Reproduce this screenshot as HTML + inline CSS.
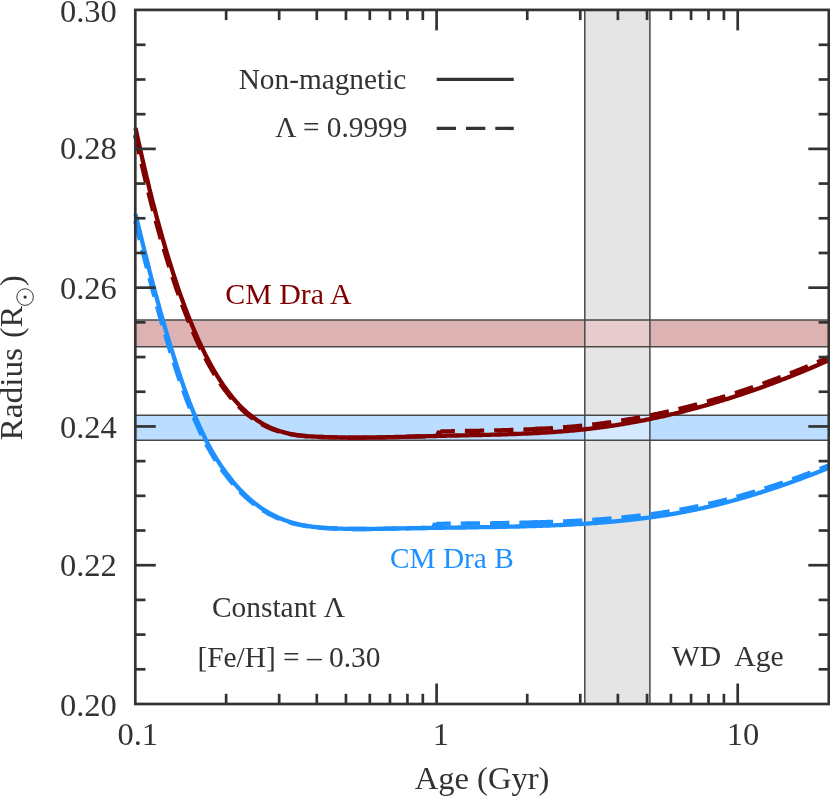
<!DOCTYPE html>
<html><head><meta charset="utf-8"><title>chart</title>
<style>html,body{margin:0;padding:0;background:#fff;}body{width:830px;height:797px;overflow:hidden;font-family:"Liberation Serif",serif;}svg{display:block;will-change:transform;}</style></head>
<body>
<svg width="830" height="797" viewBox="0 0 830 797" font-family="'Liberation Serif', serif" fill="#333333">
<rect width="830" height="797" fill="#fff"/>
<defs><clipPath id="pc"><rect x="129.3" y="9.9" width="702.7" height="694.1"/></clipPath></defs>
<rect x="135.3" y="320.1" width="694.7" height="26.6" fill="#8b0000" fill-opacity="0.30"/>
<rect x="135.3" y="415.2" width="694.7" height="25.0" fill="#1e90ff" fill-opacity="0.30"/>
<rect x="585" y="9.9" width="65" height="694.1" fill="#cccccc" fill-opacity="0.5"/>
<rect x="585" y="320.1" width="65" height="26.6" fill="#e6cccc"/>
<rect x="585" y="415.2" width="65" height="25.0" fill="#d4e8ff"/>
<line x1="135.3" y1="320.1" x2="830" y2="320.1" stroke="#484848" stroke-width="1.5"/>
<line x1="135.3" y1="346.7" x2="830" y2="346.7" stroke="#484848" stroke-width="1.5"/>
<line x1="135.3" y1="415.2" x2="830" y2="415.2" stroke="#484848" stroke-width="1.5"/>
<line x1="135.3" y1="440.2" x2="830" y2="440.2" stroke="#484848" stroke-width="1.5"/>
<line x1="584.8" y1="9.9" x2="584.8" y2="704.0" stroke="#484848" stroke-width="1.5"/>
<line x1="649.9" y1="9.9" x2="649.9" y2="704.0" stroke="#484848" stroke-width="1.5"/>
<g clip-path="url(#pc)" fill="none" stroke-linejoin="round">
<path d="M133.6,128.0 L134.6,132.6 L135.6,137.2 L136.6,141.8 L137.6,146.3 L138.6,150.8 L139.6,155.2 L140.6,159.6 L141.6,163.9 L142.6,168.2 L143.6,172.5 L144.6,176.7 L145.6,180.9 L146.6,185.0 L147.6,189.1 L148.6,193.1 L149.6,197.1 L150.6,201.0 L151.6,205.0 L152.6,208.8 L153.6,212.6 L154.6,216.4 L155.6,220.2 L156.6,223.9 L157.6,227.5 L158.6,231.1 L159.6,234.7 L160.6,238.3 L161.6,241.8 L162.6,245.2 L163.7,248.6 L164.7,252.0 L165.7,255.3 L166.7,258.6 L167.7,261.9 L168.7,265.1 L169.7,268.3 L170.7,271.5 L171.7,274.6 L172.7,277.6 L173.7,280.7 L174.7,283.6 L175.7,286.6 L176.7,289.5 L177.7,292.4 L178.7,295.2 L179.7,298.1 L180.7,300.8 L181.7,303.6 L182.7,306.3 L183.7,308.9 L184.7,311.5 L185.7,314.1 L186.7,316.7 L187.7,319.2 L188.7,321.7 L189.7,324.2 L190.7,326.6 L191.7,329.0 L192.7,331.3 L193.7,333.6 L194.7,335.9 L195.7,338.2 L196.7,340.4 L197.7,342.6 L198.7,344.7 L199.7,346.8 L200.7,348.9 L201.7,351.0 L202.7,353.0 L203.7,355.0 L204.7,356.9 L205.7,358.9 L206.7,360.8 L207.7,362.6 L208.7,364.5 L209.7,366.3 L210.7,368.0 L211.7,369.8 L212.7,371.5 L213.7,373.2 L214.7,374.8 L215.7,376.5 L216.7,378.1 L217.7,379.6 L218.7,381.2 L219.7,382.7 L220.7,384.2 L221.7,385.6 L222.7,387.1 L223.8,388.5 L224.8,389.9 L225.8,391.2 L226.8,392.5 L227.8,393.8 L228.8,395.1 L229.8,396.4 L230.8,397.6 L231.8,398.8 L232.8,399.9 L233.8,401.1 L234.8,402.2 L235.8,403.3 L236.8,404.4 L237.8,405.4 L238.8,406.5 L239.8,407.5 L240.8,408.5 L241.8,409.4 L242.8,410.3 L243.8,411.3 L244.8,412.2 L245.8,413.0 L246.8,413.9 L247.8,414.7 L248.8,415.5 L249.8,416.3 L250.8,417.1 L251.8,417.8 L252.8,418.5 L253.8,419.3 L254.8,419.9 L255.8,420.6 L256.8,421.3 L257.8,421.9 L258.8,422.5 L259.8,423.1 L260.8,423.7 L261.8,424.3 L262.8,424.8 L263.8,425.3 L264.8,425.8 L265.8,426.3 L266.8,426.8 L267.8,427.3 L268.8,427.7 L269.8,428.2 L270.8,428.6 L271.8,429.0 L272.8,429.4 L273.8,429.8 L274.8,430.1 L275.8,430.5 L276.8,430.8 L277.8,431.1 L278.8,431.5 L279.8,431.8 L280.8,432.0 L281.8,432.3 L282.8,432.6 L283.9,432.8 L284.9,433.1 L285.9,433.3 L286.9,433.5 L287.9,433.8 L288.9,434.0 L289.9,434.2 L290.9,434.3 L291.9,434.5 L292.9,434.7 L293.9,434.8 L294.9,435.0 L295.9,435.1 L296.9,435.3 L297.9,435.4 L298.9,435.5 L299.9,435.6 L300.9,435.7 L301.9,435.8 L302.9,435.9 L303.9,436.0 L304.9,436.1 L305.9,436.2 L306.9,436.3 L307.9,436.3 L308.9,436.4 L309.9,436.5 L310.9,436.5 L311.9,436.6 L312.9,436.6 L313.9,436.7 L314.9,436.7 L315.9,436.8 L316.9,436.8 L317.9,436.9 L318.9,436.9 L319.9,437.0 L320.9,437.0 L321.9,437.0 L322.9,437.1 L323.9,437.1 L324.9,437.1 L325.9,437.2 L326.9,437.2 L327.9,437.2 L328.9,437.3 L329.9,437.3 L330.9,437.3 L331.9,437.3 L332.9,437.4 L333.9,437.4 L334.9,437.4 L335.9,437.4 L336.9,437.4 L337.9,437.5 L338.9,437.5 L339.9,437.5 L340.9,437.5 L341.9,437.5 L342.9,437.5 L344.0,437.5 L345.0,437.6 L346.0,437.6 L347.0,437.6 L348.0,437.6 L349.0,437.6 L350.0,437.6 L351.0,437.6 L352.0,437.6 L353.0,437.6 L354.0,437.6 L355.0,437.6 L356.0,437.6 L357.0,437.6 L358.0,437.6 L359.0,437.6 L360.0,437.6 L361.0,437.6 L362.0,437.6 L363.0,437.6 L364.0,437.6 L365.0,437.6 L366.0,437.5 L367.0,437.5 L368.0,437.5 L369.0,437.5 L370.0,437.5 L371.0,437.5 L372.0,437.5 L373.0,437.5 L374.0,437.5 L375.0,437.4 L376.0,437.4 L377.0,437.4 L378.0,437.4 L379.0,437.4 L380.0,437.4 L381.0,437.3 L382.0,437.3 L383.0,437.3 L384.0,437.3 L385.0,437.3 L386.0,437.2 L387.0,437.2 L388.0,437.2 L389.0,437.2 L390.0,437.2 L391.0,437.1 L392.0,437.1 L393.0,437.1 L394.0,437.1 L395.0,437.0 L396.0,437.0 L397.0,437.0 L398.0,437.0 L399.0,436.9 L400.0,436.9 L401.0,436.9 L402.0,436.9 L403.0,436.8 L404.1,436.8 L405.1,436.8 L406.1,436.7 L407.1,436.7 L408.1,436.7 L409.1,436.7 L410.1,436.6 L411.1,436.6 L412.1,436.6 L413.1,436.6 L414.1,436.5 L415.1,436.5 L416.1,436.5 L417.1,436.4 L418.1,436.4 L419.1,436.4 L420.1,436.4 L421.1,436.3 L422.1,436.3 L423.1,436.3 L424.1,436.3 L425.1,436.2 L426.1,436.2 L427.1,436.2 L428.1,436.1 L429.1,436.1 L430.1,436.1 L431.1,436.1 L432.1,436.0 L433.1,436.0" stroke="#800000" stroke-width="4.3" stroke-dasharray="19.3 10" stroke-dashoffset="-7.3"/>
<path d="M133.6,214.0 L134.6,218.2 L135.6,222.4 L136.6,226.5 L137.6,230.7 L138.6,234.8 L139.6,238.9 L140.6,242.9 L141.6,247.0 L142.6,251.0 L143.6,255.0 L144.6,259.0 L145.6,262.9 L146.6,266.9 L147.6,270.8 L148.6,274.6 L149.6,278.5 L150.6,282.3 L151.6,286.1 L152.6,289.9 L153.6,293.6 L154.6,297.3 L155.6,301.0 L156.6,304.7 L157.6,308.3 L158.6,311.9 L159.6,315.5 L160.6,319.0 L161.6,322.6 L162.6,326.0 L163.7,329.5 L164.7,332.9 L165.7,336.3 L166.7,339.7 L167.7,343.0 L168.7,346.3 L169.7,349.6 L170.7,352.8 L171.7,356.0 L172.7,359.2 L173.7,362.3 L174.7,365.4 L175.7,368.5 L176.7,371.5 L177.7,374.5 L178.7,377.5 L179.7,380.4 L180.7,383.3 L181.7,386.2 L182.7,389.0 L183.7,391.8 L184.7,394.5 L185.7,397.2 L186.7,399.9 L187.7,402.5 L188.7,405.1 L189.7,407.6 L190.7,410.1 L191.7,412.6 L192.7,415.0 L193.7,417.4 L194.7,419.8 L195.7,422.1 L196.7,424.4 L197.7,426.6 L198.7,428.8 L199.7,431.0 L200.7,433.1 L201.7,435.2 L202.7,437.2 L203.7,439.2 L204.7,441.2 L205.7,443.1 L206.7,445.0 L207.7,446.9 L208.7,448.7 L209.7,450.5 L210.7,452.3 L211.7,454.0 L212.7,455.7 L213.7,457.3 L214.7,459.0 L215.7,460.5 L216.7,462.1 L217.7,463.6 L218.7,465.1 L219.7,466.6 L220.7,468.1 L221.7,469.5 L222.7,470.9 L223.8,472.3 L224.8,473.6 L225.8,475.0 L226.8,476.3 L227.8,477.6 L228.8,478.8 L229.8,480.1 L230.8,481.3 L231.8,482.5 L232.8,483.7 L233.8,484.8 L234.8,486.0 L235.8,487.1 L236.8,488.2 L237.8,489.3 L238.8,490.3 L239.8,491.4 L240.8,492.4 L241.8,493.4 L242.8,494.4 L243.8,495.3 L244.8,496.3 L245.8,497.2 L246.8,498.1 L247.8,499.0 L248.8,499.9 L249.8,500.7 L250.8,501.6 L251.8,502.4 L252.8,503.2 L253.8,504.0 L254.8,504.8 L255.8,505.5 L256.8,506.2 L257.8,507.0 L258.8,507.7 L259.8,508.3 L260.8,509.0 L261.8,509.7 L262.8,510.3 L263.8,510.9 L264.8,511.5 L265.8,512.1 L266.8,512.7 L267.8,513.3 L268.8,513.8 L269.8,514.4 L270.8,514.9 L271.8,515.4 L272.8,515.9 L273.8,516.4 L274.8,516.9 L275.8,517.3 L276.8,517.8 L277.8,518.2 L278.8,518.6 L279.8,519.0 L280.8,519.4 L281.8,519.8 L282.8,520.2 L283.9,520.5 L284.9,520.9 L285.9,521.2 L286.9,521.6 L287.9,521.9 L288.9,522.2 L289.9,522.5 L290.9,522.8 L291.9,523.1 L292.9,523.3 L293.9,523.6 L294.9,523.8 L295.9,524.1 L296.9,524.3 L297.9,524.5 L298.9,524.7 L299.9,525.0 L300.9,525.2 L301.9,525.3 L302.9,525.5 L303.9,525.7 L304.9,525.9 L305.9,526.0 L306.9,526.2 L307.9,526.3 L308.9,526.5 L309.9,526.6 L310.9,526.7 L311.9,526.9 L312.9,527.0 L313.9,527.1 L314.9,527.2 L315.9,527.3 L316.9,527.4 L317.9,527.5 L318.9,527.6 L319.9,527.7 L320.9,527.8 L321.9,527.8 L322.9,527.9 L323.9,528.0 L324.9,528.0 L325.9,528.1 L326.9,528.2 L327.9,528.2 L328.9,528.3 L329.9,528.3 L330.9,528.4 L331.9,528.4 L332.9,528.5 L333.9,528.5 L334.9,528.5 L335.9,528.6 L336.9,528.6 L337.9,528.7 L338.9,528.7 L339.9,528.7 L340.9,528.8 L341.9,528.8 L342.9,528.8 L344.0,528.8 L345.0,528.8 L346.0,528.9 L347.0,528.9 L348.0,528.9 L349.0,528.9 L350.0,528.9 L351.0,528.9 L352.0,529.0 L353.0,529.0 L354.0,529.0 L355.0,529.0 L356.0,529.0 L357.0,529.0 L358.0,529.0 L359.0,529.0 L360.0,529.0 L361.0,529.0 L362.0,529.0 L363.0,529.0 L364.0,529.0 L365.0,529.0 L366.0,529.0 L367.0,529.0 L368.0,529.0 L369.0,528.9 L370.0,528.9 L371.0,528.9 L372.0,528.9 L373.0,528.9 L374.0,528.9 L375.0,528.9 L376.0,528.9 L377.0,528.8 L378.0,528.8 L379.0,528.8 L380.0,528.8 L381.0,528.8 L382.0,528.8 L383.0,528.7 L384.0,528.7 L385.0,528.7 L386.0,528.7 L387.0,528.7 L388.0,528.7 L389.0,528.6 L390.0,528.6 L391.0,528.6 L392.0,528.6 L393.0,528.5 L394.0,528.5 L395.0,528.5 L396.0,528.5 L397.0,528.5 L398.0,528.4 L399.0,528.4 L400.0,528.4 L401.0,528.4 L402.0,528.4 L403.0,528.3 L404.1,528.3 L405.1,528.3 L406.1,528.3 L407.1,528.3 L408.1,528.3 L409.1,528.2 L410.1,528.2 L411.1,528.2 L412.1,528.2 L413.1,528.2 L414.1,528.2 L415.1,528.1 L416.1,528.1 L417.1,528.1 L418.1,528.1 L419.1,528.1 L420.1,528.1 L421.1,528.0 L422.1,528.0 L423.1,528.0 L424.1,528.0 L425.1,528.0 L426.1,528.0 L427.1,527.9 L428.1,527.9 L429.1,527.9 L430.1,527.9 L431.1,527.9 L432.1,527.9 L433.1,527.9" stroke="#1e90ff" stroke-width="4.3" stroke-dasharray="19.3 10" stroke-dashoffset="-7.3"/>
<path d="M436.5,431.9 L439.5,433.2 L441.8,431.4 L442.7,431.4 L443.5,431.4 L444.4,431.4 L445.2,431.4 L446.1,431.4 L446.9,431.3 L447.8,431.3 L448.6,431.3 L449.5,431.3 L450.3,431.3 L451.2,431.3 L452.1,431.2 L452.9,431.2 L453.8,431.2 L454.6,431.2 L455.5,431.2 L456.3,431.2 L457.2,431.1 L458.0,431.1 L458.9,431.1 L459.7,431.1 L460.6,431.1 L461.5,431.1 L462.3,431.1 L463.2,431.0 L464.0,431.0 L464.9,431.0 L465.7,431.0 L466.6,431.0 L467.4,431.0 L468.3,431.0 L469.1,430.9 L470.0,430.9 L470.9,430.9 L471.7,430.9 L472.6,430.9 L473.4,430.9 L474.3,430.8 L475.1,430.8 L476.0,430.8 L476.8,430.8 L477.7,430.8 L478.5,430.8 L479.4,430.8 L480.3,430.7 L481.1,430.7 L482.0,430.7 L482.8,430.7 L483.7,430.7 L484.5,430.7 L485.4,430.6 L486.2,430.6 L487.1,430.6 L487.9,430.6 L488.8,430.6 L489.7,430.5 L490.5,430.5 L491.4,430.5 L492.2,430.5 L493.1,430.5 L493.9,430.5 L494.8,430.4 L495.6,430.4 L496.5,430.4 L497.4,430.4 L498.2,430.4 L499.1,430.3 L499.9,430.3 L500.8,430.3 L501.6,430.3 L502.5,430.2 L503.3,430.2 L504.2,430.2 L505.0,430.2 L505.9,430.1 L506.8,430.1 L507.6,430.1 L508.5,430.1 L509.3,430.1 L510.2,430.0 L511.0,430.0 L511.9,430.0 L512.7,429.9 L513.6,429.9 L514.4,429.9 L515.3,429.9 L516.2,429.8 L517.0,429.8 L517.9,429.8 L518.7,429.7 L519.6,429.7 L520.4,429.7 L521.3,429.7 L522.1,429.6 L523.0,429.6 L523.8,429.6 L524.7,429.5 L525.6,429.5 L526.4,429.5 L527.3,429.4 L528.1,429.4 L529.0,429.3 L529.8,429.3 L530.7,429.3 L531.5,429.2 L532.4,429.2 L533.2,429.2 L534.1,429.1 L535.0,429.1 L535.8,429.0 L536.7,429.0 L537.5,429.0 L538.4,428.9 L539.2,428.9 L540.1,428.8 L540.9,428.8 L541.8,428.7 L542.6,428.7 L543.5,428.6" stroke="#800000" stroke-width="4.3" stroke-dasharray="19.3 10" stroke-linejoin="miter"/>
<path d="M533.8,429.1 L534.8,429.1 L535.8,429.0 L536.8,429.0 L537.8,428.9 L538.8,428.9 L539.8,428.8 L540.8,428.8 L541.8,428.7 L542.8,428.7 L543.8,428.6 L544.8,428.6 L545.8,428.5 L546.8,428.5 L547.8,428.4 L548.8,428.3 L549.8,428.3 L550.8,428.2 L551.8,428.1 L552.7,428.1 L553.7,428.0 L554.7,428.0 L555.7,427.9 L556.7,427.8 L557.7,427.7 L558.7,427.7 L559.7,427.6 L560.7,427.5 L561.7,427.5 L562.7,427.4 L563.7,427.3 L564.7,427.2 L565.7,427.1 L566.7,427.1 L567.7,427.0 L568.7,426.9 L569.7,426.8 L570.7,426.7 L571.7,426.7 L572.7,426.6 L573.7,426.5 L574.7,426.4 L575.7,426.3 L576.7,426.2 L577.7,426.1 L578.7,426.0 L579.7,425.9 L580.7,425.8 L581.7,425.7 L582.7,425.6 L583.7,425.5 L584.7,425.4 L585.7,425.3 L586.7,425.2 L587.7,425.1 L588.7,425.0 L589.7,424.9 L590.6,424.8 L591.6,424.6 L592.6,424.5 L593.6,424.4 L594.6,424.3 L595.6,424.2 L596.6,424.0 L597.6,423.9 L598.6,423.8 L599.6,423.7 L600.6,423.5 L601.6,423.4 L602.6,423.3 L603.6,423.2 L604.6,423.0 L605.6,422.9 L606.6,422.7 L607.6,422.6 L608.6,422.5 L609.6,422.3 L610.6,422.2 L611.6,422.0 L612.6,421.9 L613.6,421.7 L614.6,421.6 L615.6,421.4 L616.6,421.3 L617.6,421.1 L618.6,421.0 L619.6,420.8 L620.6,420.7 L621.6,420.5 L622.6,420.4 L623.6,420.2 L624.6,420.0 L625.6,419.9 L626.6,419.7 L627.5,419.5 L628.5,419.4 L629.5,419.2 L630.5,419.0 L631.5,418.8 L632.5,418.7 L633.5,418.5 L634.5,418.3 L635.5,418.1 L636.5,418.0 L637.5,417.8 L638.5,417.6 L639.5,417.4 L640.5,417.2 L641.5,417.0 L642.5,416.8 L643.5,416.6 L644.5,416.5 L645.5,416.3 L646.5,416.1 L647.5,415.9 L648.5,415.7 L649.5,415.5 L650.5,415.3 L651.5,415.1 L652.5,414.9 L653.5,414.7 L654.5,414.4 L655.5,414.2 L656.5,414.0 L657.5,413.8 L658.5,413.6 L659.5,413.4 L660.5,413.2 L661.5,413.0 L662.5,412.7 L663.5,412.5 L664.4,412.3 L665.4,412.1 L666.4,411.9 L667.4,411.6 L668.4,411.4 L669.4,411.2 L670.4,410.9 L671.4,410.7 L672.4,410.5 L673.4,410.2 L674.4,410.0 L675.4,409.8 L676.4,409.5 L677.4,409.3 L678.4,409.1 L679.4,408.8 L680.4,408.6 L681.4,408.3 L682.4,408.1 L683.4,407.8 L684.4,407.6 L685.4,407.3 L686.4,407.1 L687.4,406.8 L688.4,406.6 L689.4,406.3 L690.4,406.1 L691.4,405.8 L692.4,405.5 L693.4,405.3 L694.4,405.0 L695.4,404.7 L696.4,404.5 L697.4,404.2 L698.4,403.9 L699.4,403.7 L700.4,403.4 L701.4,403.1 L702.3,402.8 L703.3,402.6 L704.3,402.3 L705.3,402.0 L706.3,401.7 L707.3,401.5 L708.3,401.2 L709.3,400.9 L710.3,400.6 L711.3,400.3 L712.3,400.0 L713.3,399.7 L714.3,399.4 L715.3,399.2 L716.3,398.9 L717.3,398.6 L718.3,398.3 L719.3,398.0 L720.3,397.7 L721.3,397.4 L722.3,397.1 L723.3,396.8 L724.3,396.5 L725.3,396.2 L726.3,395.8 L727.3,395.5 L728.3,395.2 L729.3,394.9 L730.3,394.6 L731.3,394.3 L732.3,394.0 L733.3,393.7 L734.3,393.3 L735.3,393.0 L736.3,392.7 L737.3,392.4 L738.3,392.0 L739.2,391.7 L740.2,391.4 L741.2,391.1 L742.2,390.7 L743.2,390.4 L744.2,390.1 L745.2,389.7 L746.2,389.4 L747.2,389.1 L748.2,388.7 L749.2,388.4 L750.2,388.1 L751.2,387.7 L752.2,387.4 L753.2,387.0 L754.2,386.7 L755.2,386.3 L756.2,386.0 L757.2,385.6 L758.2,385.3 L759.2,384.9 L760.2,384.6 L761.2,384.2 L762.2,383.9 L763.2,383.5 L764.2,383.2 L765.2,382.8 L766.2,382.4 L767.2,382.1 L768.2,381.7 L769.2,381.3 L770.2,381.0 L771.2,380.6 L772.2,380.2 L773.2,379.9 L774.2,379.5 L775.2,379.1 L776.1,378.8 L777.1,378.4 L778.1,378.0 L779.1,377.6 L780.1,377.2 L781.1,376.9 L782.1,376.5 L783.1,376.1 L784.1,375.7 L785.1,375.3 L786.1,374.9 L787.1,374.6 L788.1,374.2 L789.1,373.8 L790.1,373.4 L791.1,373.0 L792.1,372.6 L793.1,372.2 L794.1,371.8 L795.1,371.4 L796.1,371.0 L797.1,370.6 L798.1,370.2 L799.1,369.8 L800.1,369.4 L801.1,369.0 L802.1,368.6 L803.1,368.2 L804.1,367.8 L805.1,367.4 L806.1,366.9 L807.1,366.5 L808.1,366.1 L809.1,365.7 L810.1,365.3 L811.1,364.9 L812.1,364.4 L813.1,364.0 L814.0,363.6 L815.0,363.2 L816.0,362.7 L817.0,362.3 L818.0,361.9 L819.0,361.5 L820.0,361.0 L821.0,360.6 L822.0,360.2 L823.0,359.7 L824.0,359.3 L825.0,358.9 L826.0,358.4 L827.0,358.0 L828.0,357.5 L829.0,357.1 L830.0,356.7 L831.0,356.2 L832.0,355.8" stroke="#800000" stroke-width="4.3" stroke-dasharray="19.3 10"/>
<path d="M432.3,524.2 L435.3,525.5 L437.6,523.8 L438.5,523.8 L439.4,523.8 L440.3,523.8 L441.2,523.8 L442.0,523.8 L442.9,523.8 L443.8,523.8 L444.7,523.7 L445.6,523.7 L446.5,523.7 L447.4,523.7 L448.3,523.7 L449.2,523.7 L450.1,523.7 L450.9,523.7 L451.8,523.7 L452.7,523.7 L453.6,523.7 L454.5,523.7 L455.4,523.6 L456.3,523.6 L457.2,523.6 L458.1,523.6 L459.0,523.6 L459.8,523.6 L460.7,523.6 L461.6,523.6 L462.5,523.6 L463.4,523.6 L464.3,523.6 L465.2,523.6 L466.1,523.5 L467.0,523.5 L467.9,523.5 L468.7,523.5 L469.6,523.5 L470.5,523.5 L471.4,523.5 L472.3,523.5 L473.2,523.5 L474.1,523.5 L475.0,523.5 L475.9,523.4 L476.8,523.4 L477.6,523.4 L478.5,523.4 L479.4,523.4 L480.3,523.4 L481.2,523.4 L482.1,523.4 L483.0,523.4 L483.9,523.4 L484.8,523.3 L485.7,523.3 L486.5,523.3 L487.4,523.3 L488.3,523.3 L489.2,523.3 L490.1,523.3 L491.0,523.3 L491.9,523.3 L492.8,523.2 L493.7,523.2 L494.6,523.2 L495.4,523.2 L496.3,523.2 L497.2,523.2 L498.1,523.2 L499.0,523.2 L499.9,523.1 L500.8,523.1 L501.7,523.1 L502.6,523.1 L503.5,523.1 L504.3,523.1 L505.2,523.1 L506.1,523.0 L507.0,523.0 L507.9,523.0 L508.8,523.0 L509.7,523.0 L510.6,523.0 L511.5,522.9 L512.4,522.9 L513.2,522.9 L514.1,522.9 L515.0,522.9 L515.9,522.9 L516.8,522.8 L517.7,522.8 L518.6,522.8 L519.5,522.8 L520.4,522.8 L521.3,522.7 L522.1,522.7 L523.0,522.7 L523.9,522.7 L524.8,522.7 L525.7,522.6 L526.6,522.6 L527.5,522.6 L528.4,522.6 L529.3,522.6 L530.2,522.5 L531.0,522.5 L531.9,522.5 L532.8,522.5 L533.7,522.4 L534.6,522.4 L535.5,522.4 L536.4,522.4 L537.3,522.3 L538.2,522.3 L539.1,522.3 L539.9,522.3 L540.8,522.2 L541.7,522.2 L542.6,522.2 L543.5,522.1" stroke="#1e90ff" stroke-width="4.3" stroke-dasharray="19.3 10" stroke-linejoin="miter"/>
<path d="M533.8,522.4 L534.8,522.4 L535.8,522.4 L536.8,522.3 L537.8,522.3 L538.8,522.3 L539.8,522.3 L540.8,522.2 L541.8,522.2 L542.8,522.2 L543.8,522.1 L544.8,522.1 L545.8,522.1 L546.8,522.0 L547.8,522.0 L548.8,522.0 L549.8,521.9 L550.8,521.9 L551.8,521.9 L552.7,521.8 L553.7,521.8 L554.7,521.8 L555.7,521.7 L556.7,521.7 L557.7,521.6 L558.7,521.6 L559.7,521.6 L560.7,521.5 L561.7,521.5 L562.7,521.4 L563.7,521.4 L564.7,521.3 L565.7,521.3 L566.7,521.3 L567.7,521.2 L568.7,521.2 L569.7,521.1 L570.7,521.1 L571.7,521.0 L572.7,521.0 L573.7,520.9 L574.7,520.9 L575.7,520.8 L576.7,520.8 L577.7,520.7 L578.7,520.7 L579.7,520.6 L580.7,520.6 L581.7,520.5 L582.7,520.4 L583.7,520.4 L584.7,520.3 L585.7,520.3 L586.7,520.2 L587.7,520.1 L588.7,520.1 L589.7,520.0 L590.6,520.0 L591.6,519.9 L592.6,519.8 L593.6,519.8 L594.6,519.7 L595.6,519.6 L596.6,519.6 L597.6,519.5 L598.6,519.4 L599.6,519.3 L600.6,519.3 L601.6,519.2 L602.6,519.1 L603.6,519.1 L604.6,519.0 L605.6,518.9 L606.6,518.8 L607.6,518.7 L608.6,518.7 L609.6,518.6 L610.6,518.5 L611.6,518.4 L612.6,518.3 L613.6,518.2 L614.6,518.2 L615.6,518.1 L616.6,518.0 L617.6,517.9 L618.6,517.8 L619.6,517.7 L620.6,517.6 L621.6,517.5 L622.6,517.4 L623.6,517.3 L624.6,517.2 L625.6,517.1 L626.6,517.0 L627.5,516.9 L628.5,516.8 L629.5,516.7 L630.5,516.6 L631.5,516.5 L632.5,516.4 L633.5,516.3 L634.5,516.2 L635.5,516.1 L636.5,515.9 L637.5,515.8 L638.5,515.7 L639.5,515.6 L640.5,515.5 L641.5,515.4 L642.5,515.2 L643.5,515.1 L644.5,515.0 L645.5,514.9 L646.5,514.7 L647.5,514.6 L648.5,514.5 L649.5,514.4 L650.5,514.2 L651.5,514.1 L652.5,514.0 L653.5,513.8 L654.5,513.7 L655.5,513.5 L656.5,513.4 L657.5,513.3 L658.5,513.1 L659.5,513.0 L660.5,512.8 L661.5,512.7 L662.5,512.5 L663.5,512.4 L664.4,512.2 L665.4,512.1 L666.4,511.9 L667.4,511.8 L668.4,511.6 L669.4,511.4 L670.4,511.3 L671.4,511.1 L672.4,510.9 L673.4,510.8 L674.4,510.6 L675.4,510.4 L676.4,510.3 L677.4,510.1 L678.4,509.9 L679.4,509.7 L680.4,509.6 L681.4,509.4 L682.4,509.2 L683.4,509.0 L684.4,508.8 L685.4,508.7 L686.4,508.5 L687.4,508.3 L688.4,508.1 L689.4,507.9 L690.4,507.7 L691.4,507.5 L692.4,507.3 L693.4,507.1 L694.4,506.9 L695.4,506.7 L696.4,506.5 L697.4,506.3 L698.4,506.1 L699.4,505.9 L700.4,505.7 L701.4,505.4 L702.3,505.2 L703.3,505.0 L704.3,504.8 L705.3,504.6 L706.3,504.3 L707.3,504.1 L708.3,503.9 L709.3,503.7 L710.3,503.4 L711.3,503.2 L712.3,503.0 L713.3,502.7 L714.3,502.5 L715.3,502.3 L716.3,502.0 L717.3,501.8 L718.3,501.5 L719.3,501.3 L720.3,501.0 L721.3,500.8 L722.3,500.5 L723.3,500.3 L724.3,500.0 L725.3,499.8 L726.3,499.5 L727.3,499.3 L728.3,499.0 L729.3,498.8 L730.3,498.5 L731.3,498.2 L732.3,498.0 L733.3,497.7 L734.3,497.4 L735.3,497.2 L736.3,496.9 L737.3,496.6 L738.3,496.3 L739.2,496.1 L740.2,495.8 L741.2,495.5 L742.2,495.2 L743.2,494.9 L744.2,494.7 L745.2,494.4 L746.2,494.1 L747.2,493.8 L748.2,493.5 L749.2,493.2 L750.2,492.9 L751.2,492.6 L752.2,492.3 L753.2,492.0 L754.2,491.7 L755.2,491.4 L756.2,491.1 L757.2,490.8 L758.2,490.5 L759.2,490.2 L760.2,489.9 L761.2,489.6 L762.2,489.3 L763.2,489.0 L764.2,488.7 L765.2,488.3 L766.2,488.0 L767.2,487.7 L768.2,487.4 L769.2,487.1 L770.2,486.8 L771.2,486.4 L772.2,486.1 L773.2,485.8 L774.2,485.4 L775.2,485.1 L776.1,484.8 L777.1,484.5 L778.1,484.1 L779.1,483.8 L780.1,483.4 L781.1,483.1 L782.1,482.8 L783.1,482.4 L784.1,482.1 L785.1,481.7 L786.1,481.4 L787.1,481.1 L788.1,480.7 L789.1,480.4 L790.1,480.0 L791.1,479.7 L792.1,479.3 L793.1,478.9 L794.1,478.6 L795.1,478.2 L796.1,477.9 L797.1,477.5 L798.1,477.2 L799.1,476.8 L800.1,476.4 L801.1,476.1 L802.1,475.7 L803.1,475.3 L804.1,475.0 L805.1,474.6 L806.1,474.2 L807.1,473.8 L808.1,473.5 L809.1,473.1 L810.1,472.7 L811.1,472.3 L812.1,472.0 L813.1,471.6 L814.0,471.2 L815.0,470.8 L816.0,470.4 L817.0,470.0 L818.0,469.7 L819.0,469.3 L820.0,468.9 L821.0,468.5 L822.0,468.1 L823.0,467.7 L824.0,467.3 L825.0,466.9 L826.0,466.5 L827.0,466.1 L828.0,465.7 L829.0,465.3 L830.0,464.9 L831.0,464.5 L832.0,464.1" stroke="#1e90ff" stroke-width="4.3" stroke-dasharray="19.3 10"/>
<path d="M135.5,128.0 L136.5,132.6 L137.5,137.2 L138.5,141.7 L139.5,146.2 L140.5,150.7 L141.5,155.1 L142.5,159.4 L143.5,163.8 L144.5,168.0 L145.5,172.3 L146.5,176.5 L147.5,180.6 L148.5,184.7 L149.4,188.8 L150.4,192.8 L151.4,196.8 L152.4,200.7 L153.4,204.6 L154.4,208.4 L155.4,212.2 L156.4,216.0 L157.4,219.7 L158.4,223.4 L159.4,227.1 L160.4,230.7 L161.4,234.2 L162.4,237.8 L163.4,241.2 L164.4,244.7 L165.4,248.1 L166.4,251.5 L167.4,254.8 L168.4,258.1 L169.4,261.3 L170.4,264.5 L171.4,267.7 L172.4,270.8 L173.4,273.9 L174.4,277.0 L175.4,280.0 L176.4,283.0 L177.3,286.0 L178.3,288.9 L179.3,291.7 L180.3,294.6 L181.3,297.4 L182.3,300.1 L183.3,302.9 L184.3,305.6 L185.3,308.2 L186.3,310.8 L187.3,313.4 L188.3,316.0 L189.3,318.5 L190.3,321.0 L191.3,323.4 L192.3,325.9 L193.3,328.2 L194.3,330.6 L195.3,332.9 L196.3,335.2 L197.3,337.4 L198.3,339.6 L199.3,341.8 L200.3,344.0 L201.3,346.1 L202.3,348.2 L203.3,350.2 L204.3,352.3 L205.2,354.3 L206.2,356.2 L207.2,358.1 L208.2,360.0 L209.2,361.9 L210.2,363.7 L211.2,365.6 L212.2,367.3 L213.2,369.1 L214.2,370.8 L215.2,372.5 L216.2,374.2 L217.2,375.8 L218.2,377.4 L219.2,379.0 L220.2,380.5 L221.2,382.0 L222.2,383.5 L223.2,385.0 L224.2,386.4 L225.2,387.8 L226.2,389.2 L227.2,390.6 L228.2,391.9 L229.2,393.2 L230.2,394.5 L231.2,395.7 L232.2,397.0 L233.1,398.2 L234.1,399.3 L235.1,400.5 L236.1,401.6 L237.1,402.7 L238.1,403.8 L239.1,404.9 L240.1,405.9 L241.1,406.9 L242.1,407.9 L243.1,408.9 L244.1,409.8 L245.1,410.7 L246.1,411.6 L247.1,412.5 L248.1,413.4 L249.1,414.2 L250.1,415.0 L251.1,415.8 L252.1,416.6 L253.1,417.4 L254.1,418.1 L255.1,418.8 L256.1,419.5 L257.1,420.2 L258.1,420.9 L259.1,421.5 L260.1,422.1 L261.0,422.7 L262.0,423.3 L263.0,423.9 L264.0,424.4 L265.0,425.0 L266.0,425.5 L267.0,426.0 L268.0,426.5 L269.0,427.0 L270.0,427.4 L271.0,427.9 L272.0,428.3 L273.0,428.7 L274.0,429.1 L275.0,429.5 L276.0,429.9 L277.0,430.2 L278.0,430.6 L279.0,430.9 L280.0,431.2 L281.0,431.5 L282.0,431.8 L283.0,432.1 L284.0,432.4 L285.0,432.6 L286.0,432.9 L287.0,433.1 L288.0,433.4 L288.9,433.6 L289.9,433.8 L290.9,434.0 L291.9,434.2 L292.9,434.4 L293.9,434.5 L294.9,434.7 L295.9,434.9 L296.9,435.0 L297.9,435.2 L298.9,435.3 L299.9,435.4 L300.9,435.5 L301.9,435.6 L302.9,435.8 L303.9,435.9 L304.9,436.0 L305.9,436.0 L306.9,436.1 L307.9,436.2 L308.9,436.3 L309.9,436.4 L310.9,436.4 L311.9,436.5 L312.9,436.5 L313.9,436.6 L314.9,436.7 L315.9,436.7 L316.8,436.7 L317.8,436.8 L318.8,436.8 L319.8,436.9 L320.8,436.9 L321.8,437.0 L322.8,437.0 L323.8,437.0 L324.8,437.1 L325.8,437.1 L326.8,437.1 L327.8,437.2 L328.8,437.2 L329.8,437.2 L330.8,437.3 L331.8,437.3 L332.8,437.3 L333.8,437.3 L334.8,437.4 L335.8,437.4 L336.8,437.4 L337.8,437.4 L338.8,437.4 L339.8,437.5 L340.8,437.5 L341.8,437.5 L342.8,437.5 L343.8,437.5 L344.7,437.5 L345.7,437.5 L346.7,437.6 L347.7,437.6 L348.7,437.6 L349.7,437.6 L350.7,437.6 L351.7,437.6 L352.7,437.6 L353.7,437.6 L354.7,437.6 L355.7,437.6 L356.7,437.6 L357.7,437.6 L358.7,437.6 L359.7,437.6 L360.7,437.6 L361.7,437.6 L362.7,437.6 L363.7,437.6 L364.7,437.6 L365.7,437.6 L366.7,437.6 L367.7,437.5 L368.7,437.5 L369.7,437.5 L370.7,437.5 L371.7,437.5 L372.6,437.5 L373.6,437.5 L374.6,437.5 L375.6,437.5 L376.6,437.4 L377.6,437.4 L378.6,437.4 L379.6,437.4 L380.6,437.4 L381.6,437.4 L382.6,437.3 L383.6,437.3 L384.6,437.3 L385.6,437.3 L386.6,437.3 L387.6,437.2 L388.6,437.2 L389.6,437.2 L390.6,437.2 L391.6,437.2 L392.6,437.1 L393.6,437.1 L394.6,437.1 L395.6,437.1 L396.6,437.0 L397.6,437.0 L398.6,437.0 L399.6,437.0 L400.5,436.9 L401.5,436.9 L402.5,436.9 L403.5,436.9 L404.5,436.8 L405.5,436.8 L406.5,436.8 L407.5,436.8 L408.5,436.7 L409.5,436.7 L410.5,436.7 L411.5,436.7 L412.5,436.6 L413.5,436.6 L414.5,436.6 L415.5,436.5 L416.5,436.5 L417.5,436.5 L418.5,436.5 L419.5,436.4 L420.5,436.4 L421.5,436.4 L422.5,436.3 L423.5,436.3 L424.5,436.3 L425.5,436.3 L426.5,436.2 L427.5,436.2 L428.4,436.2 L429.4,436.2 L430.4,436.1 L431.4,436.1 L432.4,436.1 L433.4,436.1 L434.4,436.0 L435.4,436.0 L436.4,436.0 L437.4,435.9 L438.4,435.9 L439.4,435.9 L440.4,435.9 L441.4,435.8 L442.4,435.8 L443.4,435.8 L444.4,435.8 L445.4,435.8 L446.4,435.7 L447.4,435.7 L448.4,435.7 L449.4,435.7 L450.4,435.6 L451.4,435.6 L452.4,435.6 L453.4,435.6 L454.4,435.5 L455.4,435.5 L456.3,435.5 L457.3,435.5 L458.3,435.5 L459.3,435.4 L460.3,435.4 L461.3,435.4 L462.3,435.4 L463.3,435.4 L464.3,435.3 L465.3,435.3 L466.3,435.3 L467.3,435.3 L468.3,435.3 L469.3,435.2 L470.3,435.2 L471.3,435.2 L472.3,435.2 L473.3,435.1 L474.3,435.1 L475.3,435.1 L476.3,435.1 L477.3,435.1 L478.3,435.0 L479.3,435.0 L480.3,435.0 L481.3,435.0 L482.3,434.9 L483.3,434.9 L484.2,434.9 L485.2,434.9 L486.2,434.8 L487.2,434.8 L488.2,434.8 L489.2,434.8 L490.2,434.8 L491.2,434.7 L492.2,434.7 L493.2,434.7 L494.2,434.6 L495.2,434.6 L496.2,434.6 L497.2,434.6 L498.2,434.5 L499.2,434.5 L500.2,434.5 L501.2,434.5 L502.2,434.4 L503.2,434.4 L504.2,434.4 L505.2,434.3 L506.2,434.3 L507.2,434.3 L508.2,434.2 L509.2,434.2 L510.2,434.2 L511.2,434.1 L512.1,434.1 L513.1,434.1 L514.1,434.0 L515.1,434.0 L516.1,434.0 L517.1,433.9 L518.1,433.9 L519.1,433.8 L520.1,433.8 L521.1,433.8 L522.1,433.7 L523.1,433.7 L524.1,433.6 L525.1,433.6 L526.1,433.6 L527.1,433.5 L528.1,433.5 L529.1,433.4 L530.1,433.4 L531.1,433.3 L532.1,433.3 L533.1,433.2 L534.1,433.2 L535.1,433.1 L536.1,433.1 L537.1,433.0 L538.1,433.0 L539.1,432.9 L540.0,432.9 L541.0,432.8 L542.0,432.7 L543.0,432.7 L544.0,432.6 L545.0,432.6 L546.0,432.5 L547.0,432.4 L548.0,432.4 L549.0,432.3 L550.0,432.3 L551.0,432.2 L552.0,432.1 L553.0,432.1 L554.0,432.0 L555.0,431.9 L556.0,431.8 L557.0,431.8 L558.0,431.7 L559.0,431.6 L560.0,431.5 L561.0,431.5 L562.0,431.4 L563.0,431.3 L564.0,431.2 L565.0,431.2 L566.0,431.1 L567.0,431.0 L567.9,430.9 L568.9,430.8 L569.9,430.7 L570.9,430.6 L571.9,430.5 L572.9,430.5 L573.9,430.4 L574.9,430.3 L575.9,430.2 L576.9,430.1 L577.9,430.0 L578.9,429.9 L579.9,429.8 L580.9,429.7 L581.9,429.6 L582.9,429.5 L583.9,429.4 L584.9,429.3 L585.9,429.1 L586.9,429.0 L587.9,428.9 L588.9,428.8 L589.9,428.7 L590.9,428.6 L591.9,428.5 L592.9,428.3 L593.9,428.2 L594.9,428.1 L595.8,428.0 L596.8,427.8 L597.8,427.7 L598.8,427.6 L599.8,427.5 L600.8,427.3 L601.8,427.2 L602.8,427.1 L603.8,426.9 L604.8,426.8 L605.8,426.6 L606.8,426.5 L607.8,426.4 L608.8,426.2 L609.8,426.1 L610.8,425.9 L611.8,425.8 L612.8,425.6 L613.8,425.5 L614.8,425.3 L615.8,425.2 L616.8,425.0 L617.8,424.9 L618.8,424.7 L619.8,424.5 L620.8,424.4 L621.8,424.2 L622.8,424.1 L623.7,423.9 L624.7,423.7 L625.7,423.6 L626.7,423.4 L627.7,423.2 L628.7,423.0 L629.7,422.9 L630.7,422.7 L631.7,422.5 L632.7,422.3 L633.7,422.2 L634.7,422.0 L635.7,421.8 L636.7,421.6 L637.7,421.4 L638.7,421.2 L639.7,421.0 L640.7,420.9 L641.7,420.7 L642.7,420.5 L643.7,420.3 L644.7,420.1 L645.7,419.9 L646.7,419.7 L647.7,419.5 L648.7,419.3 L649.7,419.1 L650.7,418.9 L651.6,418.7 L652.6,418.5 L653.6,418.2 L654.6,418.0 L655.6,417.8 L656.6,417.6 L657.6,417.4 L658.6,417.2 L659.6,417.0 L660.6,416.7 L661.6,416.5 L662.6,416.3 L663.6,416.1 L664.6,415.9 L665.6,415.6 L666.6,415.4 L667.6,415.2 L668.6,414.9 L669.6,414.7 L670.6,414.5 L671.6,414.2 L672.6,414.0 L673.6,413.8 L674.6,413.5 L675.6,413.3 L676.6,413.0 L677.6,412.8 L678.6,412.6 L679.5,412.3 L680.5,412.1 L681.5,411.8 L682.5,411.6 L683.5,411.3 L684.5,411.1 L685.5,410.8 L686.5,410.5 L687.5,410.3 L688.5,410.0 L689.5,409.8 L690.5,409.5 L691.5,409.2 L692.5,409.0 L693.5,408.7 L694.5,408.5 L695.5,408.2 L696.5,407.9 L697.5,407.6 L698.5,407.4 L699.5,407.1 L700.5,406.8 L701.5,406.5 L702.5,406.3 L703.5,406.0 L704.5,405.7 L705.5,405.4 L706.5,405.1 L707.4,404.9 L708.4,404.6 L709.4,404.3 L710.4,404.0 L711.4,403.7 L712.4,403.4 L713.4,403.1 L714.4,402.8 L715.4,402.5 L716.4,402.2 L717.4,401.9 L718.4,401.6 L719.4,401.3 L720.4,401.0 L721.4,400.7 L722.4,400.4 L723.4,400.1 L724.4,399.8 L725.4,399.5 L726.4,399.2 L727.4,398.9 L728.4,398.6 L729.4,398.2 L730.4,397.9 L731.4,397.6 L732.4,397.3 L733.4,397.0 L734.4,396.6 L735.3,396.3 L736.3,396.0 L737.3,395.7 L738.3,395.3 L739.3,395.0 L740.3,394.7 L741.3,394.4 L742.3,394.0 L743.3,393.7 L744.3,393.3 L745.3,393.0 L746.3,392.7 L747.3,392.3 L748.3,392.0 L749.3,391.7 L750.3,391.3 L751.3,391.0 L752.3,390.6 L753.3,390.3 L754.3,389.9 L755.3,389.6 L756.3,389.2 L757.3,388.9 L758.3,388.5 L759.3,388.2 L760.3,387.8 L761.3,387.4 L762.3,387.1 L763.2,386.7 L764.2,386.4 L765.2,386.0 L766.2,385.6 L767.2,385.3 L768.2,384.9 L769.2,384.5 L770.2,384.2 L771.2,383.8 L772.2,383.4 L773.2,383.1 L774.2,382.7 L775.2,382.3 L776.2,381.9 L777.2,381.5 L778.2,381.2 L779.2,380.8 L780.2,380.4 L781.2,380.0 L782.2,379.6 L783.2,379.2 L784.2,378.9 L785.2,378.5 L786.2,378.1 L787.2,377.7 L788.2,377.3 L789.2,376.9 L790.2,376.5 L791.1,376.1 L792.1,375.7 L793.1,375.3 L794.1,374.9 L795.1,374.5 L796.1,374.1 L797.1,373.7 L798.1,373.3 L799.1,372.9 L800.1,372.5 L801.1,372.1 L802.1,371.7 L803.1,371.3 L804.1,370.8 L805.1,370.4 L806.1,370.0 L807.1,369.6 L808.1,369.2 L809.1,368.8 L810.1,368.3 L811.1,367.9 L812.1,367.5 L813.1,367.1 L814.1,366.6 L815.1,366.2 L816.1,365.8 L817.1,365.3 L818.1,364.9 L819.0,364.5 L820.0,364.1 L821.0,363.6 L822.0,363.2 L823.0,362.7 L824.0,362.3 L825.0,361.9 L826.0,361.4 L827.0,361.0 L828.0,360.5 L829.0,360.1 L830.0,359.6 L831.0,359.2 L832.0,358.8" stroke="#800000" stroke-width="4.3"/>
<path d="M135.5,214.0 L136.5,218.2 L137.5,222.3 L138.5,226.5 L139.5,230.6 L140.5,234.7 L141.5,238.7 L142.5,242.8 L143.5,246.8 L144.5,250.8 L145.5,254.8 L146.5,258.7 L147.5,262.7 L148.5,266.6 L149.4,270.5 L150.4,274.3 L151.4,278.2 L152.4,282.0 L153.4,285.7 L154.4,289.5 L155.4,293.2 L156.4,296.9 L157.4,300.6 L158.4,304.2 L159.4,307.9 L160.4,311.5 L161.4,315.0 L162.4,318.5 L163.4,322.0 L164.4,325.5 L165.4,329.0 L166.4,332.4 L167.4,335.8 L168.4,339.1 L169.4,342.4 L170.4,345.7 L171.4,349.0 L172.4,352.2 L173.4,355.4 L174.4,358.5 L175.4,361.7 L176.4,364.8 L177.3,367.8 L178.3,370.8 L179.3,373.8 L180.3,376.8 L181.3,379.7 L182.3,382.6 L183.3,385.4 L184.3,388.3 L185.3,391.0 L186.3,393.8 L187.3,396.5 L188.3,399.1 L189.3,401.8 L190.3,404.3 L191.3,406.9 L192.3,409.4 L193.3,411.9 L194.3,414.3 L195.3,416.7 L196.3,419.0 L197.3,421.3 L198.3,423.6 L199.3,425.9 L200.3,428.1 L201.3,430.2 L202.3,432.3 L203.3,434.4 L204.3,436.5 L205.2,438.5 L206.2,440.5 L207.2,442.4 L208.2,444.3 L209.2,446.2 L210.2,448.0 L211.2,449.8 L212.2,451.6 L213.2,453.3 L214.2,455.0 L215.2,456.6 L216.2,458.3 L217.2,459.9 L218.2,461.4 L219.2,463.0 L220.2,464.5 L221.2,466.0 L222.2,467.4 L223.2,468.8 L224.2,470.2 L225.2,471.6 L226.2,473.0 L227.2,474.3 L228.2,475.6 L229.2,476.9 L230.2,478.2 L231.2,479.4 L232.2,480.7 L233.1,481.9 L234.1,483.1 L235.1,484.2 L236.1,485.4 L237.1,486.5 L238.1,487.6 L239.1,488.7 L240.1,489.8 L241.1,490.8 L242.1,491.8 L243.1,492.8 L244.1,493.8 L245.1,494.8 L246.1,495.7 L247.1,496.7 L248.1,497.6 L249.1,498.5 L250.1,499.4 L251.1,500.2 L252.1,501.1 L253.1,501.9 L254.1,502.7 L255.1,503.5 L256.1,504.3 L257.1,505.0 L258.1,505.8 L259.1,506.5 L260.1,507.2 L261.0,507.9 L262.0,508.6 L263.0,509.2 L264.0,509.9 L265.0,510.5 L266.0,511.1 L267.0,511.7 L268.0,512.3 L269.0,512.9 L270.0,513.4 L271.0,514.0 L272.0,514.5 L273.0,515.0 L274.0,515.5 L275.0,516.0 L276.0,516.5 L277.0,517.0 L278.0,517.4 L279.0,517.9 L280.0,518.3 L281.0,518.7 L282.0,519.1 L283.0,519.5 L284.0,519.9 L285.0,520.3 L286.0,520.6 L287.0,521.0 L288.0,521.3 L288.9,521.6 L289.9,521.9 L290.9,522.2 L291.9,522.5 L292.9,522.8 L293.9,523.1 L294.9,523.4 L295.9,523.6 L296.9,523.9 L297.9,524.1 L298.9,524.3 L299.9,524.6 L300.9,524.8 L301.9,525.0 L302.9,525.2 L303.9,525.4 L304.9,525.6 L305.9,525.7 L306.9,525.9 L307.9,526.1 L308.9,526.2 L309.9,526.4 L310.9,526.5 L311.9,526.6 L312.9,526.8 L313.9,526.9 L314.9,527.0 L315.9,527.1 L316.8,527.2 L317.8,527.3 L318.8,527.4 L319.8,527.5 L320.8,527.6 L321.8,527.7 L322.8,527.8 L323.8,527.8 L324.8,527.9 L325.8,528.0 L326.8,528.0 L327.8,528.1 L328.8,528.2 L329.8,528.2 L330.8,528.3 L331.8,528.3 L332.8,528.4 L333.8,528.4 L334.8,528.5 L335.8,528.5 L336.8,528.5 L337.8,528.6 L338.8,528.6 L339.8,528.7 L340.8,528.7 L341.8,528.7 L342.8,528.7 L343.8,528.8 L344.7,528.8 L345.7,528.8 L346.7,528.8 L347.7,528.9 L348.7,528.9 L349.7,528.9 L350.7,528.9 L351.7,528.9 L352.7,528.9 L353.7,529.0 L354.7,529.0 L355.7,529.0 L356.7,529.0 L357.7,529.0 L358.7,529.0 L359.7,529.0 L360.7,529.0 L361.7,529.0 L362.7,529.0 L363.7,529.0 L364.7,529.0 L365.7,529.0 L366.7,529.0 L367.7,529.0 L368.7,529.0 L369.7,529.0 L370.7,529.0 L371.7,528.9 L372.6,528.9 L373.6,528.9 L374.6,528.9 L375.6,528.9 L376.6,528.9 L377.6,528.9 L378.6,528.9 L379.6,528.8 L380.6,528.8 L381.6,528.8 L382.6,528.8 L383.6,528.8 L384.6,528.8 L385.6,528.7 L386.6,528.7 L387.6,528.7 L388.6,528.7 L389.6,528.7 L390.6,528.6 L391.6,528.6 L392.6,528.6 L393.6,528.6 L394.6,528.6 L395.6,528.5 L396.6,528.5 L397.6,528.5 L398.6,528.5 L399.6,528.5 L400.5,528.4 L401.5,528.4 L402.5,528.4 L403.5,528.4 L404.5,528.4 L405.5,528.3 L406.5,528.3 L407.5,528.3 L408.5,528.3 L409.5,528.3 L410.5,528.2 L411.5,528.2 L412.5,528.2 L413.5,528.2 L414.5,528.2 L415.5,528.2 L416.5,528.1 L417.5,528.1 L418.5,528.1 L419.5,528.1 L420.5,528.1 L421.5,528.1 L422.5,528.0 L423.5,528.0 L424.5,528.0 L425.5,528.0 L426.5,528.0 L427.5,528.0 L428.4,528.0 L429.4,527.9 L430.4,527.9 L431.4,527.9 L432.4,527.9 L433.4,527.9 L434.4,527.9 L435.4,527.9 L436.4,527.8 L437.4,527.8 L438.4,527.8 L439.4,527.8 L440.4,527.8 L441.4,527.8 L442.4,527.8 L443.4,527.7 L444.4,527.7 L445.4,527.7 L446.4,527.7 L447.4,527.7 L448.4,527.7 L449.4,527.7 L450.4,527.7 L451.4,527.6 L452.4,527.6 L453.4,527.6 L454.4,527.6 L455.4,527.6 L456.3,527.6 L457.3,527.6 L458.3,527.5 L459.3,527.5 L460.3,527.5 L461.3,527.5 L462.3,527.5 L463.3,527.5 L464.3,527.5 L465.3,527.5 L466.3,527.4 L467.3,527.4 L468.3,527.4 L469.3,527.4 L470.3,527.4 L471.3,527.4 L472.3,527.4 L473.3,527.3 L474.3,527.3 L475.3,527.3 L476.3,527.3 L477.3,527.3 L478.3,527.3 L479.3,527.2 L480.3,527.2 L481.3,527.2 L482.3,527.2 L483.3,527.2 L484.2,527.2 L485.2,527.2 L486.2,527.1 L487.2,527.1 L488.2,527.1 L489.2,527.1 L490.2,527.1 L491.2,527.0 L492.2,527.0 L493.2,527.0 L494.2,527.0 L495.2,527.0 L496.2,527.0 L497.2,526.9 L498.2,526.9 L499.2,526.9 L500.2,526.9 L501.2,526.9 L502.2,526.8 L503.2,526.8 L504.2,526.8 L505.2,526.8 L506.2,526.8 L507.2,526.7 L508.2,526.7 L509.2,526.7 L510.2,526.7 L511.2,526.6 L512.1,526.6 L513.1,526.6 L514.1,526.6 L515.1,526.6 L516.1,526.5 L517.1,526.5 L518.1,526.5 L519.1,526.5 L520.1,526.4 L521.1,526.4 L522.1,526.4 L523.1,526.4 L524.1,526.3 L525.1,526.3 L526.1,526.3 L527.1,526.2 L528.1,526.2 L529.1,526.2 L530.1,526.2 L531.1,526.1 L532.1,526.1 L533.1,526.1 L534.1,526.0 L535.1,526.0 L536.1,526.0 L537.1,525.9 L538.1,525.9 L539.1,525.9 L540.0,525.8 L541.0,525.8 L542.0,525.8 L543.0,525.7 L544.0,525.7 L545.0,525.7 L546.0,525.6 L547.0,525.6 L548.0,525.5 L549.0,525.5 L550.0,525.5 L551.0,525.4 L552.0,525.4 L553.0,525.3 L554.0,525.3 L555.0,525.3 L556.0,525.2 L557.0,525.2 L558.0,525.1 L559.0,525.1 L560.0,525.0 L561.0,525.0 L562.0,525.0 L563.0,524.9 L564.0,524.9 L565.0,524.8 L566.0,524.8 L567.0,524.7 L567.9,524.7 L568.9,524.6 L569.9,524.6 L570.9,524.5 L571.9,524.5 L572.9,524.4 L573.9,524.4 L574.9,524.3 L575.9,524.2 L576.9,524.2 L577.9,524.1 L578.9,524.1 L579.9,524.0 L580.9,524.0 L581.9,523.9 L582.9,523.8 L583.9,523.8 L584.9,523.7 L585.9,523.6 L586.9,523.6 L587.9,523.5 L588.9,523.4 L589.9,523.4 L590.9,523.3 L591.9,523.2 L592.9,523.2 L593.9,523.1 L594.9,523.0 L595.8,523.0 L596.8,522.9 L597.8,522.8 L598.8,522.7 L599.8,522.7 L600.8,522.6 L601.8,522.5 L602.8,522.4 L603.8,522.4 L604.8,522.3 L605.8,522.2 L606.8,522.1 L607.8,522.0 L608.8,521.9 L609.8,521.9 L610.8,521.8 L611.8,521.7 L612.8,521.6 L613.8,521.5 L614.8,521.4 L615.8,521.3 L616.8,521.2 L617.8,521.1 L618.8,521.0 L619.8,520.9 L620.8,520.8 L621.8,520.7 L622.8,520.6 L623.7,520.5 L624.7,520.4 L625.7,520.3 L626.7,520.2 L627.7,520.1 L628.7,520.0 L629.7,519.9 L630.7,519.8 L631.7,519.7 L632.7,519.6 L633.7,519.5 L634.7,519.3 L635.7,519.2 L636.7,519.1 L637.7,519.0 L638.7,518.9 L639.7,518.7 L640.7,518.6 L641.7,518.5 L642.7,518.4 L643.7,518.2 L644.7,518.1 L645.7,518.0 L646.7,517.9 L647.7,517.7 L648.7,517.6 L649.7,517.5 L650.7,517.3 L651.6,517.2 L652.6,517.0 L653.6,516.9 L654.6,516.8 L655.6,516.6 L656.6,516.5 L657.6,516.3 L658.6,516.2 L659.6,516.0 L660.6,515.9 L661.6,515.7 L662.6,515.6 L663.6,515.4 L664.6,515.3 L665.6,515.1 L666.6,515.0 L667.6,514.8 L668.6,514.6 L669.6,514.5 L670.6,514.3 L671.6,514.1 L672.6,514.0 L673.6,513.8 L674.6,513.6 L675.6,513.4 L676.6,513.3 L677.6,513.1 L678.6,512.9 L679.5,512.7 L680.5,512.5 L681.5,512.4 L682.5,512.2 L683.5,512.0 L684.5,511.8 L685.5,511.6 L686.5,511.4 L687.5,511.2 L688.5,511.0 L689.5,510.8 L690.5,510.6 L691.5,510.4 L692.5,510.2 L693.5,510.0 L694.5,509.8 L695.5,509.6 L696.5,509.4 L697.5,509.2 L698.5,509.0 L699.5,508.8 L700.5,508.5 L701.5,508.3 L702.5,508.1 L703.5,507.9 L704.5,507.7 L705.5,507.4 L706.5,507.2 L707.4,507.0 L708.4,506.8 L709.4,506.5 L710.4,506.3 L711.4,506.1 L712.4,505.8 L713.4,505.6 L714.4,505.3 L715.4,505.1 L716.4,504.9 L717.4,504.6 L718.4,504.4 L719.4,504.1 L720.4,503.9 L721.4,503.6 L722.4,503.4 L723.4,503.1 L724.4,502.8 L725.4,502.6 L726.4,502.3 L727.4,502.1 L728.4,501.8 L729.4,501.5 L730.4,501.3 L731.4,501.0 L732.4,500.7 L733.4,500.5 L734.4,500.2 L735.3,499.9 L736.3,499.6 L737.3,499.4 L738.3,499.1 L739.3,498.8 L740.3,498.5 L741.3,498.2 L742.3,498.0 L743.3,497.7 L744.3,497.4 L745.3,497.1 L746.3,496.8 L747.3,496.5 L748.3,496.2 L749.3,495.9 L750.3,495.6 L751.3,495.3 L752.3,495.0 L753.3,494.7 L754.3,494.4 L755.3,494.1 L756.3,493.8 L757.3,493.5 L758.3,493.2 L759.3,492.9 L760.3,492.6 L761.3,492.3 L762.3,491.9 L763.2,491.6 L764.2,491.3 L765.2,491.0 L766.2,490.7 L767.2,490.3 L768.2,490.0 L769.2,489.7 L770.2,489.4 L771.2,489.0 L772.2,488.7 L773.2,488.4 L774.2,488.0 L775.2,487.7 L776.2,487.4 L777.2,487.0 L778.2,486.7 L779.2,486.4 L780.2,486.0 L781.2,485.7 L782.2,485.3 L783.2,485.0 L784.2,484.7 L785.2,484.3 L786.2,484.0 L787.2,483.6 L788.2,483.3 L789.2,482.9 L790.2,482.5 L791.1,482.2 L792.1,481.8 L793.1,481.5 L794.1,481.1 L795.1,480.8 L796.1,480.4 L797.1,480.0 L798.1,479.7 L799.1,479.3 L800.1,478.9 L801.1,478.6 L802.1,478.2 L803.1,477.8 L804.1,477.4 L805.1,477.1 L806.1,476.7 L807.1,476.3 L808.1,475.9 L809.1,475.6 L810.1,475.2 L811.1,474.8 L812.1,474.4 L813.1,474.0 L814.1,473.6 L815.1,473.3 L816.1,472.9 L817.1,472.5 L818.1,472.1 L819.0,471.7 L820.0,471.3 L821.0,470.9 L822.0,470.5 L823.0,470.1 L824.0,469.7 L825.0,469.3 L826.0,468.9 L827.0,468.5 L828.0,468.1 L829.0,467.7 L830.0,467.3 L831.0,466.9 L832.0,466.5" stroke="#1e90ff" stroke-width="4.3"/>
</g>
<g stroke="#333333" stroke-width="2.7" fill="none">
<rect x="135.3" y="9.9" width="693.5" height="694.1"/>
<line x1="135.3" y1="669.30" x2="145.5" y2="669.30"/>
<line x1="828.8" y1="669.30" x2="818.5999999999999" y2="669.30"/>
<line x1="135.3" y1="634.61" x2="145.5" y2="634.61"/>
<line x1="828.8" y1="634.61" x2="818.5999999999999" y2="634.61"/>
<line x1="135.3" y1="599.91" x2="145.5" y2="599.91"/>
<line x1="828.8" y1="599.91" x2="818.5999999999999" y2="599.91"/>
<line x1="135.3" y1="565.22" x2="155.8" y2="565.22"/>
<line x1="828.8" y1="565.22" x2="808.3" y2="565.22"/>
<line x1="135.3" y1="530.52" x2="145.5" y2="530.52"/>
<line x1="828.8" y1="530.52" x2="818.5999999999999" y2="530.52"/>
<line x1="135.3" y1="495.83" x2="145.5" y2="495.83"/>
<line x1="828.8" y1="495.83" x2="818.5999999999999" y2="495.83"/>
<line x1="135.3" y1="461.13" x2="145.5" y2="461.13"/>
<line x1="828.8" y1="461.13" x2="818.5999999999999" y2="461.13"/>
<line x1="135.3" y1="426.44" x2="155.8" y2="426.44"/>
<line x1="828.8" y1="426.44" x2="808.3" y2="426.44"/>
<line x1="135.3" y1="391.74" x2="145.5" y2="391.74"/>
<line x1="828.8" y1="391.74" x2="818.5999999999999" y2="391.74"/>
<line x1="135.3" y1="357.05" x2="145.5" y2="357.05"/>
<line x1="828.8" y1="357.05" x2="818.5999999999999" y2="357.05"/>
<line x1="135.3" y1="322.35" x2="145.5" y2="322.35"/>
<line x1="828.8" y1="322.35" x2="818.5999999999999" y2="322.35"/>
<line x1="135.3" y1="287.66" x2="155.8" y2="287.66"/>
<line x1="828.8" y1="287.66" x2="808.3" y2="287.66"/>
<line x1="135.3" y1="252.96" x2="145.5" y2="252.96"/>
<line x1="828.8" y1="252.96" x2="818.5999999999999" y2="252.96"/>
<line x1="135.3" y1="218.27" x2="145.5" y2="218.27"/>
<line x1="828.8" y1="218.27" x2="818.5999999999999" y2="218.27"/>
<line x1="135.3" y1="183.57" x2="145.5" y2="183.57"/>
<line x1="828.8" y1="183.57" x2="818.5999999999999" y2="183.57"/>
<line x1="135.3" y1="148.88" x2="155.8" y2="148.88"/>
<line x1="828.8" y1="148.88" x2="808.3" y2="148.88"/>
<line x1="135.3" y1="114.18" x2="145.5" y2="114.18"/>
<line x1="828.8" y1="114.18" x2="818.5999999999999" y2="114.18"/>
<line x1="135.3" y1="79.49" x2="145.5" y2="79.49"/>
<line x1="828.8" y1="79.49" x2="818.5999999999999" y2="79.49"/>
<line x1="135.3" y1="44.79" x2="145.5" y2="44.79"/>
<line x1="828.8" y1="44.79" x2="818.5999999999999" y2="44.79"/>
<line x1="226.14" y1="704.0" x2="226.14" y2="693.8"/>
<line x1="226.14" y1="9.9" x2="226.14" y2="20.1"/>
<line x1="279.16" y1="704.0" x2="279.16" y2="693.8"/>
<line x1="279.16" y1="9.9" x2="279.16" y2="20.1"/>
<line x1="316.78" y1="704.0" x2="316.78" y2="693.8"/>
<line x1="316.78" y1="9.9" x2="316.78" y2="20.1"/>
<line x1="345.96" y1="704.0" x2="345.96" y2="693.8"/>
<line x1="345.96" y1="9.9" x2="345.96" y2="20.1"/>
<line x1="369.80" y1="704.0" x2="369.80" y2="693.8"/>
<line x1="369.80" y1="9.9" x2="369.80" y2="20.1"/>
<line x1="389.96" y1="704.0" x2="389.96" y2="693.8"/>
<line x1="389.96" y1="9.9" x2="389.96" y2="20.1"/>
<line x1="407.42" y1="704.0" x2="407.42" y2="693.8"/>
<line x1="407.42" y1="9.9" x2="407.42" y2="20.1"/>
<line x1="422.82" y1="704.0" x2="422.82" y2="693.8"/>
<line x1="422.82" y1="9.9" x2="422.82" y2="20.1"/>
<line x1="436.60" y1="704.0" x2="436.60" y2="683.5"/>
<line x1="436.60" y1="9.9" x2="436.60" y2="30.4"/>
<line x1="527.24" y1="704.0" x2="527.24" y2="693.8"/>
<line x1="527.24" y1="9.9" x2="527.24" y2="20.1"/>
<line x1="580.26" y1="704.0" x2="580.26" y2="693.8"/>
<line x1="580.26" y1="9.9" x2="580.26" y2="20.1"/>
<line x1="617.88" y1="704.0" x2="617.88" y2="693.8"/>
<line x1="617.88" y1="9.9" x2="617.88" y2="20.1"/>
<line x1="647.06" y1="704.0" x2="647.06" y2="693.8"/>
<line x1="647.06" y1="9.9" x2="647.06" y2="20.1"/>
<line x1="670.90" y1="704.0" x2="670.90" y2="693.8"/>
<line x1="670.90" y1="9.9" x2="670.90" y2="20.1"/>
<line x1="691.06" y1="704.0" x2="691.06" y2="693.8"/>
<line x1="691.06" y1="9.9" x2="691.06" y2="20.1"/>
<line x1="708.52" y1="704.0" x2="708.52" y2="693.8"/>
<line x1="708.52" y1="9.9" x2="708.52" y2="20.1"/>
<line x1="723.92" y1="704.0" x2="723.92" y2="693.8"/>
<line x1="723.92" y1="9.9" x2="723.92" y2="20.1"/>
<line x1="737.70" y1="704.0" x2="737.70" y2="683.5"/>
<line x1="737.70" y1="9.9" x2="737.70" y2="30.4"/>
</g>
<line x1="436.7" y1="79.4" x2="513.8" y2="79.4" stroke="#333333" stroke-width="3.4"/>
<line x1="436.7" y1="128.4" x2="513.8" y2="128.4" stroke="#333333" stroke-width="3.4" stroke-dasharray="19.3 10"/>
<text x="406.3" y="89.3" font-size="29.3" text-anchor="end">Non-magnetic</text>
<text x="407.4" y="136.7" font-size="29.3" text-anchor="end">Λ = 0.9999</text>
<text x="225.3" y="304.3" font-size="29.9" fill="#800000">CM Dra A</text>
<text x="390.0" y="568.2" font-size="29.3" fill="#1e90ff">CM Dra B</text>
<text x="212.0" y="616.7" font-size="29.4">Constant Λ</text>
<text x="197.4" y="666.6" font-size="29.4">[Fe/H] = – 0.30</text>
<text x="671.8" y="666" font-size="29.6" xml:space="preserve">WD  Age</text>
<text x="116.8" y="22.0" font-size="32.5" text-anchor="end">0.30</text>
<text x="116.8" y="159.4" font-size="32.5" text-anchor="end">0.28</text>
<text x="116.8" y="298.9" font-size="32.5" text-anchor="end">0.26</text>
<text x="116.8" y="437.6" font-size="32.5" text-anchor="end">0.24</text>
<text x="116.8" y="576.4" font-size="32.5" text-anchor="end">0.22</text>
<text x="116.8" y="715.5" font-size="32.5" text-anchor="end">0.20</text>
<text x="137.7" y="744.8" font-size="32.5" text-anchor="middle">0.1</text>
<text x="440.8" y="744.8" font-size="32.5" text-anchor="middle">1</text>
<text x="743.0" y="744.8" font-size="32.5" text-anchor="middle">10</text>
<text x="414.7" y="788.5" font-size="32.6">Age (Gyr)</text>
<g transform="translate(22.1,440.6) rotate(-90)"><text y="0" font-size="32"><tspan x="0" textLength="92.7" lengthAdjust="spacingAndGlyphs">Radius</tspan><tspan x="102.6">(R</tspan></text></g>
<circle cx="25.1" cy="297.1" r="8.3" fill="none" stroke="#333333" stroke-width="1.0"/>
<circle cx="25.1" cy="297.1" r="1.6" fill="#333333"/>
<g transform="translate(22.1,286.0) rotate(-90)"><text x="0" y="0" font-size="32">)</text></g>
</svg>
</body></html>
